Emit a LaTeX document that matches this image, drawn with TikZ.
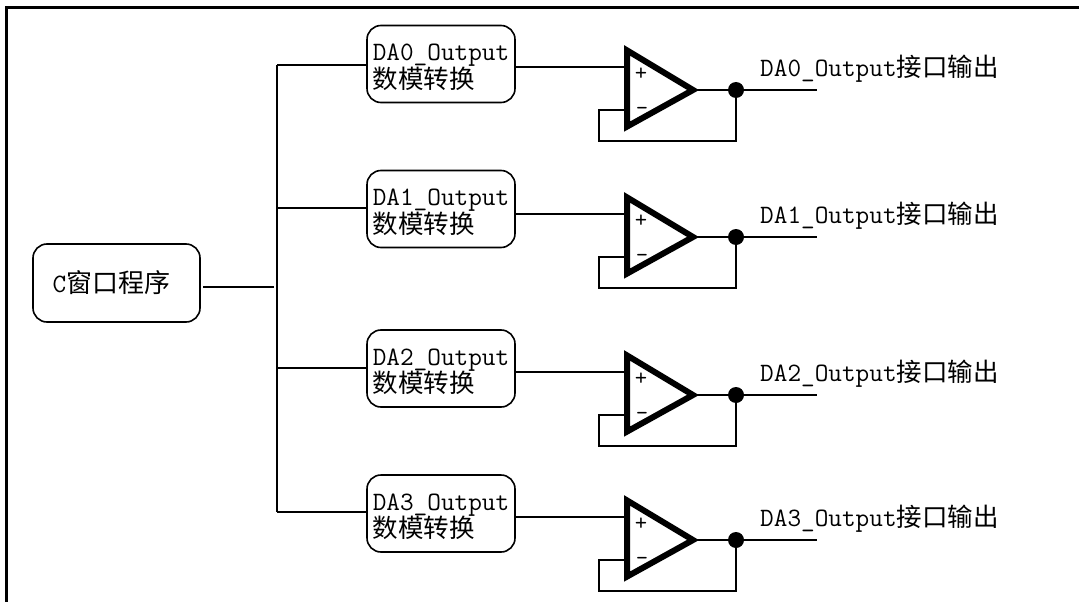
\documentclass[tikz,border=0pt]{standalone}
\usepackage{fontspec}
\newfontfamily\cjk{Noto Sans CJK SC}
\newcommand{\tl}{\fontsize{26.5}{25}\selectfont\ttfamily}
\newcommand{\cj}{\fontsize{25.5}{25}\selectfont\cjk}
\tikzset{
  wire/.style={line width=1.6pt,black},
  box/.style={draw,line width=1.6pt,rounded corners=14pt,inner sep=0pt,align=left},
  dabox/.style={box,minimum width=148pt,minimum height=77pt},
  amp/.style={line width=6pt,line join=miter,miter limit=3},
  junc/.style={circle,fill=black,inner sep=0pt,minimum size=16pt},
  lbl/.style={anchor=west,inner sep=0pt},
  sign/.style={inner sep=0pt,font=\fontsize{24}{24}\selectfont\ttfamily}
}
\begin{document}
\begin{tikzpicture}[x=1pt,y=-1pt]
\useasboundingbox (0,0) rectangle (1079,602);
\coordinate (fr) at (1079,8);
\coordinate (fc) at (6,8);
\coordinate (fb) at (6,602);
\draw[line width=3pt] (fr) -- (fc) -- (fb);
\node[box,minimum width=167pt,minimum height=78pt] (main) at (116.5,283)
  {{\tl C}{\fontsize{26}{25}\selectfont\cjk 窗口程序}\hspace*{10pt}};
\coordinate (mainend) at (274,287);
\coordinate (mainstart) at (203,287);
\draw[wire] (mainstart) -- (mainend);
\coordinate (top) at (277,65);
\coordinate (bot) at (277,512);
\draw[wire] (top) -- (bot);
\foreach \i/\by/\wy/\T in {0/64/65/90,1/209/208/237,2/368.5/368/395,3/513.5/512/540}{
  \node[dabox] (b\i) at (441,\by) {\rule{0pt}{23pt}{\tl DA\i\_Output}\\[-1pt]{\cj 数模转换}};
  \coordinate (br\i) at (277,\wy);
  \coordinate (bi\i) at (367,\wy);
  \draw[wire] (br\i) -- (bi\i);
  \coordinate (at\i) at (627,\T-39.6);
  \coordinate (ab\i) at (627,\T+36.6);
  \coordinate (ap\i) at (693,\T);
  \draw[amp] (at\i) -- (ap\i) -- (ab\i) -- cycle;
  \coordinate (in\i) at (624,\T-23);
  \coordinate (out\i) at (516,\T-23);
  \draw[wire] (out\i) -- (in\i);
  \node[sign] (plus\i) at (641,\T-16) {+};
  \node[sign] (minus\i) at (642,\T+21) {–};
  \node[junc] (j\i) at (736,\T) {};
  \coordinate (end\i) at (817,\T);
  \draw[wire] (ap\i) -- (j\i) -- (end\i);
  \coordinate (fa\i) at (736,\T+51);
  \coordinate (fc\i) at (599,\T+51);
  \coordinate (fd\i) at (599,\T+20);
  \coordinate (fe\i) at (624,\T+20);
  \draw[wire,line join=miter] (j\i) -- (fa\i) -- (fc\i) -- (fd\i) -- (fe\i);
  \node[lbl] (l\i) at (760,\T-21) {{\tl DA\i\_Output}{\cj 接口输出}};
}
\end{tikzpicture}
\end{document}
